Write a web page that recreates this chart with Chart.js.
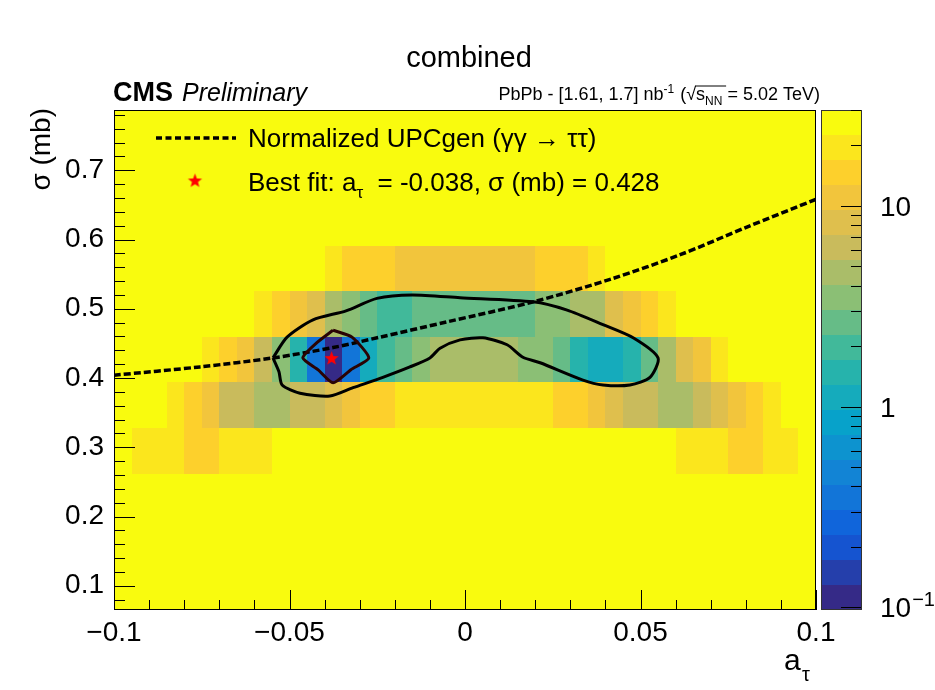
<!DOCTYPE html>
<html>
<head>
<meta charset="utf-8">
<script src="https://cdn.jsdelivr.net/npm/chart.js@4.4.1/dist/chart.umd.min.js"></script>
<style>
  html, body { margin: 0; padding: 0; background: #ffffff; }
  #wrap { width: 935px; height: 690px; }
</style>
</head>
<body>
<div id="wrap"><canvas id="likelihoodScan" width="935" height="690"></canvas></div>
<script>
// Bin edges of the 2D scan (a_tau along x, sigma along y)
const aEdges = [-0.1, -0.095, -0.09, -0.085, -0.08, -0.075, -0.07, -0.065, -0.06, -0.055,
  -0.05, -0.045, -0.04, -0.035, -0.03, -0.025, -0.02, -0.015, -0.01, -0.005,
  0, 0.005, 0.01, 0.015, 0.02, 0.025, 0.03, 0.035, 0.04, 0.045,
  0.05, 0.055, 0.06, 0.065, 0.07, 0.075, 0.08, 0.085, 0.09, 0.095, 0.1];
const sigmaEdges = [0.065, 0.131, 0.197, 0.262, 0.328, 0.394, 0.459, 0.525, 0.591, 0.656, 0.722, 0.787];

// z per cell, one array per sigma row (bin centre in the name), 40 a_tau bins each
const zRow0098 = [25,25,25,25,25,25,25,25,25,25, 25,25,25,25,25,25,25,25,25,25, 25,25,25,25,25,25,25,25,25,25, 25,25,25,25,25,25,25,25,25,25];
const zRow0164 = [25,25,25,25,25,25,25,25,25,25, 25,25,25,25,25,25,25,25,25,25, 25,25,25,25,25,25,25,25,25,25, 25,25,25,25,25,25,25,25,25,25];
const zRow0229 = [25,25,25,25,25,25,25,25,25,25, 25,25,25,25,25,25,25,25,25,25, 25,25,25,25,25,25,25,25,25,25, 25,25,25,25,25,25,25,25,25,25];
const zRow0295 = [25,19,19,19,14.5,14.5,19,19,19,25, 25,25,25,25,25,25,25,25,25,25, 25,25,25,25,25,25,25,25,25,25, 25,25,19,19,19,14.5,14.5,19,19,25];
const zRow0361 = [25,25,25,19,14.5,11,6.2,6.2,4.7,4.7, 6.2,6.2,8.3,11,14.5,14.5,19,19,19,19, 19,19,19,19,19,14.5,14.5,11,8.3,6.2, 6.2,4.7,4.7,6.2,8.3,11,14.5,19,25,25];
const zRow0426 = [25,25,25,25,25,19,14.5,11,6.2,3.5, 1.5,0.35,0.11,0.35,1.1,2.0,2.6,3.5,4.7,4.7, 4.7,4.7,4.7,3.5,3.5,2.6,1.5,1.1,1.1,1.5, 2.6,4.7,8.3,11,19,25,25,25,25,25];
const zRow0492 = [25,25,25,25,25,25,25,25,19,14.5, 11,8.3,4.7,3.5,2.6,2.0,2.0,2.6,2.6,2.6, 2.6,2.6,2.6,2.6,3.5,3.5,4.7,4.7,8.3,11, 14.5,19,25,25,25,25,25,25,25,25];
const zRow0558 = [25,25,25,25,25,25,25,25,25,25, 25,25,19,14.5,14.5,14.5,11,11,11,11, 11,11,11,11,14.5,14.5,14.5,19,25,25, 25,25,25,25,25,25,25,25,25,25];
const zRow0623 = [25,25,25,25,25,25,25,25,25,25, 25,25,25,25,25,25,25,25,25,25, 25,25,25,25,25,25,25,25,25,25, 25,25,25,25,25,25,25,25,25,25];
const zRow0689 = [25,25,25,25,25,25,25,25,25,25, 25,25,25,25,25,25,25,25,25,25, 25,25,25,25,25,25,25,25,25,25, 25,25,25,25,25,25,25,25,25,25];
const zRow0755 = [25,25,25,25,25,25,25,25,25,25, 25,25,25,25,25,25,25,25,25,25, 25,25,25,25,25,25,25,25,25,25, 25,25,25,25,25,25,25,25,25,25];
const zRows = [zRow0098, zRow0164, zRow0229, zRow0295, zRow0361, zRow0426, zRow0492, zRow0558, zRow0623, zRow0689, zRow0755];

// contours (outer and inner)
const outerA = [-0.0547, -0.0507, -0.0433, -0.0339, -0.0251, -0.0151, -0.0014, 0.0194, 0.0291, 0.0393, 0.0479, 0.0550,
  0.0527, 0.0470, 0.0393, 0.0336, 0.0214, 0.0165, 0.0120, 0.0051, -0.0014, -0.0071, -0.0100, -0.0157, -0.0234,
  -0.0319, -0.0385, -0.0470, -0.0521, -0.0530, -0.0547];
const outerSigma = [0.429, 0.459, 0.484, 0.497, 0.515, 0.520, 0.516, 0.510, 0.498, 0.477, 0.458, 0.429,
  0.401, 0.390, 0.390, 0.397, 0.422, 0.430, 0.448, 0.458, 0.455, 0.443, 0.429, 0.416, 0.401,
  0.386, 0.374, 0.378, 0.390, 0.409, 0.429];
const innerA = [-0.0376, -0.0322, -0.0274, -0.0325, -0.0376, -0.0419, -0.0462, -0.0422, -0.0376];
const innerSigma = [0.469, 0.459, 0.429, 0.412, 0.393, 0.412, 0.429, 0.451, 0.469];

// normalized UPCgen prediction
const upcA = [-0.1, -0.0755, -0.0547, -0.0376, -0.0242, -0.0052, 0.0195, 0.0423, 0.0613, 0.0803, 0.1];
const upcSigma = [0.404, 0.416, 0.429, 0.444, 0.459, 0.481, 0.510, 0.544, 0.578, 0.618, 0.658];

// best fit point
const bestFitA = [-0.038];
const bestFitSigma = [0.428];

// axes
const xTicks = [-0.1, -0.05, 0, 0.05, 0.1];
const xTickLabels = ['\u22120.1', '\u22120.05', '0', '0.05', '0.1'];
const yTicks = [0.1, 0.2, 0.3, 0.4, 0.5, 0.6, 0.7];
const yTickLabels = ['0.1', '0.2', '0.3', '0.4', '0.5', '0.6', '0.7'];
const zTicks = [0.1, 1, 10];
const zTickLabels = [['10', '\u22121'], ['1', ''], ['10', '']];
const zMin = 0.097, zMax = 30;

const FONT = '"Liberation Sans", Arial, Helvetica, sans-serif';

// ROOT kBird palette
const birdR = [0.2082, 0.0592, 0.0780, 0.0232, 0.1802, 0.5301, 0.8186, 0.9956, 0.9764];
const birdG = [0.1664, 0.3599, 0.5041, 0.6419, 0.7178, 0.7492, 0.7328, 0.7862, 0.9832];
const birdB = [0.5293, 0.8684, 0.8385, 0.7914, 0.6425, 0.4662, 0.3499, 0.1968, 0.0539];
const nLevels = 20;

function bird(f) {
  const p = f * 8;
  const i = Math.min(7, Math.floor(p));
  const w = p - i;
  const c = arr => Math.round(255 * (arr[i] + (arr[i + 1] - arr[i]) * w));
  return `rgb(${c(birdR)},${c(birdG)},${c(birdB)})`;
}
function levelOf(z) {
  const t = (Math.log10(z) - Math.log10(zMin)) / (Math.log10(zMax) - Math.log10(zMin));
  return Math.max(0, Math.min(nLevels - 1, Math.floor(t * nLevels)));
}
function colorOf(z) {
  return bird(levelOf(z) / (nLevels - 1));
}

// filled red star used as marker
function makeStar(r) {
  const c = document.createElement('canvas');
  c.width = c.height = Math.ceil(2 * r + 2);
  const g = c.getContext('2d');
  const cx = c.width / 2, cy = c.height / 2;
  g.beginPath();
  for (let k = 0; k < 10; k++) {
    const rr = k % 2 === 0 ? r : r * 0.42;
    const ang = -Math.PI / 2 + k * Math.PI / 5;
    g.lineTo(cx + rr * Math.cos(ang), cy + rr * Math.sin(ang));
  }
  g.closePath();
  g.fillStyle = '#ff0000';
  g.fill();
  return c;
}
const starImg = makeStar(7.5);

const toXY = (xs, ys) => xs.map((v, i) => ({ x: v, y: ys[i] }));

const heatmapPlugin = {
  id: 'heatmap',
  beforeDatasetsDraw(chart) {
    const { ctx, chartArea: ca, scales: { x, y } } = chart;
    ctx.save();
    ctx.fillStyle = colorOf(zMax);
    ctx.fillRect(ca.left, ca.top, ca.width, ca.height);
    zRows.forEach((row, j) => {
      const yb = Math.round(y.getPixelForValue(sigmaEdges[j]));
      const yt = Math.round(y.getPixelForValue(sigmaEdges[j + 1]));
      row.forEach((z, i) => {
        const xl = Math.round(x.getPixelForValue(aEdges[i]));
        const xr = Math.round(x.getPixelForValue(aEdges[i + 1]));
        ctx.fillStyle = colorOf(z);
        ctx.fillRect(xl, yt, xr - xl, yb - yt);
      });
    });
    ctx.restore();
  }
};

function drawParts(ctx, parts, x, y, align) {
  let total = 0;
  parts.forEach(p => { ctx.font = p.font; p.w = ctx.measureText(p.text).width; total += p.w + (p.gap || 0); });
  let cx = align === 'right' ? x - total : x;
  parts.forEach(p => {
    ctx.font = p.font;
    ctx.fillText(p.text, cx, y + (p.dy || 0));
    if (p.over) {
      ctx.beginPath();
      ctx.lineWidth = 1;
      ctx.moveTo(cx - 1, y - p.over);
      ctx.lineTo(cx + p.overW, y - p.over);
      ctx.stroke();
    }
    cx += p.w + (p.gap || 0);
  });
}

const decorPlugin = {
  id: 'decor',
  afterDraw(chart) {
    const { ctx, chartArea: ca, scales: { x, y, z } } = chart;
    ctx.save();
    ctx.strokeStyle = '#000';
    ctx.fillStyle = '#000';

    // frame
    ctx.lineWidth = 1;
    ctx.strokeRect(ca.left + 0.5, ca.top + 0.5, ca.width - 1, ca.height - 1);

    // inward ticks on x
    ctx.beginPath();
    for (let k = -10; k <= 10; k++) {
      const v = k / 100;
      const px = Math.round(x.getPixelForValue(v)) + 0.5;
      const len = k % 5 === 0 ? 20 : 10;
      ctx.moveTo(px, ca.bottom);
      ctx.lineTo(px, ca.bottom - len);
    }
    // inward ticks on y
    for (let k = 4; k <= 39; k++) {
      const v = k / 50;
      const py = Math.round(y.getPixelForValue(v)) + 0.5;
      const len = k % 5 === 0 ? 21 : 11;
      ctx.moveTo(ca.left, py);
      ctx.lineTo(ca.left + len, py);
    }
    ctx.stroke();

    // colour bar
    const cbL = 821, cbR = 862;
    const lmin = Math.log10(zMin), lmax = Math.log10(zMax);
    for (let k = 0; k < nLevels; k++) {
      const z0 = Math.pow(10, lmin + k * (lmax - lmin) / nLevels);
      const z1 = Math.pow(10, lmin + (k + 1) * (lmax - lmin) / nLevels);
      const y0 = Math.round(z.getPixelForValue(z0));
      const y1 = Math.round(z.getPixelForValue(z1));
      ctx.fillStyle = bird(k / (nLevels - 1));
      ctx.fillRect(cbL, y1, cbR - cbL, y0 - y1);
    }
    ctx.strokeStyle = '#333';
    ctx.strokeRect(cbL + 0.5, ca.top + 0.5, cbR - cbL - 1, ca.height - 1);
    ctx.strokeStyle = '#000';
    ctx.beginPath();
    for (let e = -1; e <= 1; e++) {
      for (let m = 1; m <= 9; m++) {
        const v = m * Math.pow(10, e);
        if (v < zMin || v > zMax) continue;
        const py = Math.round(z.getPixelForValue(v)) + 0.5;
        const len = m === 1 ? 20 : 10;
        ctx.moveTo(cbR - 1, py);
        ctx.lineTo(cbR - 1 - len, py);
      }
    }
    ctx.stroke();
    ctx.fillStyle = '#000';
    ctx.textBaseline = 'alphabetic';
    ctx.textAlign = 'left';
    zTicks.forEach((v, i) => {
      const py = z.getPixelForValue(v);
      const [base, exp] = zTickLabels[i];
      ctx.font = `28px ${FONT}`;
      const bx = 880;
      ctx.fillText(base, bx, py + 10);
      if (exp) {
        const w = ctx.measureText(base).width;
        ctx.font = `20px ${FONT}`;
        ctx.fillText(exp, bx + w + 1, py - 1);
      }
    });

    // title and labels
    ctx.textAlign = 'center';
    ctx.font = `29px ${FONT}`;
    ctx.fillText('combined', 469, 67);

    ctx.textAlign = 'left';
    ctx.font = `bold 27px ${FONT}`;
    ctx.fillText('CMS', 113, 101);
    ctx.font = `italic 25px ${FONT}`;
    ctx.fillText('Preliminary', 182, 101);

    const sm = `18px ${FONT}`, tiny = `12px ${FONT}`;
    drawParts(ctx, [
      { text: 'PbPb - [1.61, 1.7] nb', font: sm },
      { text: '-1', font: tiny, dy: -7, gap: 1 },
      { text: ' (\u221A', font: sm },
      { text: 's', font: sm, over: 14, overW: 30 },
      { text: 'NN', font: tiny, dy: 5 },
      { text: ' = 5.02 TeV)', font: sm }
    ], 820, 100, 'right');

    // axis titles
    ctx.save();
    ctx.translate(50, 108);
    ctx.rotate(-Math.PI / 2);
    ctx.textAlign = 'right';
    ctx.font = `28px ${FONT}`;
    ctx.fillText('\u03C3 (mb)', 0, 0);
    ctx.restore();

    ctx.textAlign = 'left';
    ctx.font = `30px ${FONT}`;
    ctx.fillText('a', 784, 670);
    ctx.font = `20px ${FONT}`;
    ctx.fillText('\u03C4', 802, 681);

    // legend
    ctx.beginPath();
    ctx.setLineDash([6, 3.5]);
    ctx.lineWidth = 3.5;
    ctx.moveTo(156, 138);
    ctx.lineTo(236, 138);
    ctx.stroke();
    ctx.setLineDash([]);
    ctx.font = `26px ${FONT}`;
    ctx.fillText('Normalized UPCgen (\u03B3\u03B3 \u2192 \u03C4\u03C4)', 248, 147);
    ctx.drawImage(starImg, 195 - starImg.width / 2, 181 - starImg.height / 2);
    drawParts(ctx, [
      { text: 'Best fit: a', font: `26px ${FONT}` },
      { text: '\u03C4', font: `17px ${FONT}`, dy: 7 },
      { text: '  = -0.038, \u03C3 (mb) = 0.428', font: `26px ${FONT}` }
    ], 248, 191, 'left');

    ctx.restore();
  }
};

new Chart(document.getElementById('likelihoodScan'), {
  type: 'scatter',
  data: {
    datasets: [
      {
        label: 'Best fit',
        data: toXY(bestFitA, bestFitSigma),
        pointStyle: starImg,
        pointRadius: 8,
        showLine: false
      },
      {
        label: 'inner contour',
        data: toXY(innerA, innerSigma),
        showLine: true,
        borderColor: '#2a0304',
        borderWidth: 3,
        pointRadius: 0,
        tension: 0.2
      },
      {
        label: 'outer contour',
        data: toXY(outerA, outerSigma),
        showLine: true,
        borderColor: '#000000',
        borderWidth: 3,
        pointRadius: 0,
        tension: 0.25
      },
      {
        label: 'Normalized UPCgen',
        data: toXY(upcA, upcSigma),
        showLine: true,
        borderColor: '#000000',
        borderWidth: 3.5,
        borderDash: [7, 3],
        pointRadius: 0,
        tension: 0.3
      }
    ]
  },
  options: {
    responsive: false,
    animation: false,
    events: [],
    layout: { padding: { top: 110, right: 119, bottom: 0, left: 0 } },
    plugins: { legend: { display: false }, tooltip: { enabled: false }, title: { display: false } },
    scales: {
      x: {
        type: 'linear', min: -0.1, max: 0.1, position: 'bottom',
        grid: { display: false, drawTicks: false }, border: { display: false },
        afterBuildTicks: s => { s.ticks = xTicks.map(v => ({ value: v })); },
        afterFit: s => { s.height = 80; },
        ticks: {
          callback: (v, i) => xTickLabels[i],
          font: { family: FONT, size: 28 }, color: '#000', padding: 6,
          maxRotation: 0, autoSkip: false
        }
      },
      y: {
        type: 'linear', min: 0.065, max: 0.787, position: 'left',
        grid: { display: false, drawTicks: false }, border: { display: false },
        afterBuildTicks: s => { s.ticks = yTicks.map(v => ({ value: v })); },
        afterFit: s => { s.width = 114; },
        ticks: {
          callback: (v, i) => yTickLabels[i],
          font: { family: FONT, size: 28 }, color: '#000', padding: 10, autoSkip: false
        }
      },
      z: { type: 'logarithmic', min: zMin, max: zMax, position: 'right', display: false }
    }
  },
  plugins: [heatmapPlugin, decorPlugin]
});
</script>
</body>
</html>
